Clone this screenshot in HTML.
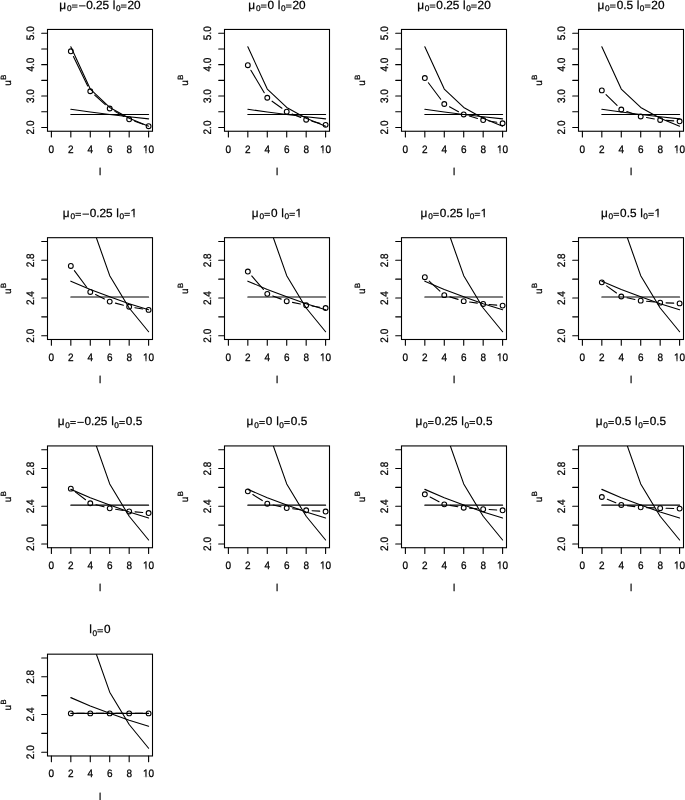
<!DOCTYPE html><html><head><meta charset="utf-8"><style>html,body{margin:0;padding:0;background:#fff;overflow:hidden;}svg{display:block;will-change:transform;}text{font-family:"Liberation Sans",sans-serif;fill:#000;text-rendering:geometricPrecision;stroke:#000;stroke-width:0.25px;}</style></head><body>
<svg width="685" height="800" viewBox="0 0 685 800">
<rect width="685" height="800" fill="#fff"/>
<clipPath id="c00"><rect x="47.5" y="29.45" width="105" height="101.8"/></clipPath>
<g stroke="#000" stroke-width="1.1" stroke-linecap="round" stroke-linejoin="round"><rect x="47.5" y="29.45" width="105" height="101.8" fill="none" stroke-linejoin="miter"/><path d="M51.39 131.25v5.8M70.83 131.25v5.8M90.28 131.25v5.8M109.72 131.25v5.8M129.17 131.25v5.8M148.61 131.25v5.8M47.5 127.48h-5.8M47.5 111.77h-5.8M47.5 96.06h-5.8M47.5 80.35h-5.8M47.5 64.64h-5.8M47.5 48.93h-5.8M47.5 33.22h-5.8" fill="none"/><path d="M70.83 46.79 L90.28 89.08 L109.72 107.47 L129.17 118.24 L148.61 126.16" fill="none" clip-path="url(#c00)"/><path d="M70.83 114.55 L148.61 114.55" fill="none"/><path d="M70.83 109.29 L90.28 112.05 L109.72 114.5 L129.17 116.8 L148.61 118.84" fill="none"/><path d="M73.41 56.59L87.7 85.95M94.69 95.17L105.31 104.59M114.88 111.36L124.01 116.42M134.72 121.26L143.05 124.24" fill="none"/><circle cx="70.83" cy="51.29" r="2.4" fill="none"/><circle cx="90.28" cy="91.25" r="2.4" fill="none"/><circle cx="109.72" cy="108.5" r="2.4" fill="none"/><circle cx="129.17" cy="119.28" r="2.4" fill="none"/><circle cx="148.61" cy="126.22" r="2.4" fill="none"/></g>
<text x="51.39" y="152.6" text-anchor="middle" font-size="10.0" transform="matrix(1 0 0 1.08 0 -12.21)">0</text><text x="70.83" y="152.6" text-anchor="middle" font-size="10.0" transform="matrix(1 0 0 1.08 0 -12.21)">2</text><text x="90.28" y="152.6" text-anchor="middle" font-size="10.0" transform="matrix(1 0 0 1.08 0 -12.21)">4</text><text x="109.72" y="152.6" text-anchor="middle" font-size="10.0" transform="matrix(1 0 0 1.08 0 -12.21)">6</text><text x="129.17" y="152.6" text-anchor="middle" font-size="10.0" transform="matrix(1 0 0 1.08 0 -12.21)">8</text><text x="148.61" y="152.6" text-anchor="middle" font-size="10.0" transform="matrix(1 0 0 1.08 0 -12.21)">10</text><rect x="142.05" y="151.40" width="3.47" height="3.15" fill="#fff"/><rect x="146.49" y="151.40" width="2.16" height="3.15" fill="#fff"/><text x="33.85" y="127.48" text-anchor="middle" font-size="10.0" transform="rotate(-90 33.85 127.48) matrix(1 0 0 1.08 0 -10.2)">2.0</text><text x="33.85" y="96.06" text-anchor="middle" font-size="10.0" transform="rotate(-90 33.85 96.06) matrix(1 0 0 1.08 0 -7.68)">3.0</text><text x="33.85" y="64.64" text-anchor="middle" font-size="10.0" transform="rotate(-90 33.85 64.64) matrix(1 0 0 1.08 0 -5.17)">4.0</text><text x="33.85" y="33.22" text-anchor="middle" font-size="10.0" transform="rotate(-90 33.85 33.22) matrix(1 0 0 1.08 0 -2.66)">5.0</text><text x="100" y="174.85" text-anchor="middle" font-size="10.0">l</text><text x="10.6" y="80.15" text-anchor="middle" font-size="10.0" transform="rotate(-90 10.6 80.15)">u<tspan dx="0.5" dy="-4.7" font-size="7.60">B</tspan></text><text x="59.33" y="8.60" font-size="11.80">μ</text><text x="66.94" y="11.10" font-size="8.26">0</text><rect x="71.91" y="4.60" width="5.60" height="0.9"/><rect x="71.91" y="6.65" width="5.60" height="0.9"/><rect x="79.01" y="5.40" width="6.50" height="0.95"/><text x="86.15" y="8.60" font-size="11.80">0.25</text><text x="112.83" y="8.60" font-size="11.80">l</text><text x="115.94" y="11.10" font-size="8.26">0</text><rect x="120.91" y="4.60" width="5.60" height="0.9"/><rect x="120.91" y="6.65" width="5.60" height="0.9"/><text x="127.41" y="8.60" font-size="11.80">20</text>
<clipPath id="c01"><rect x="224.5" y="29.45" width="105" height="101.8"/></clipPath>
<g stroke="#000" stroke-width="1.1" stroke-linecap="round" stroke-linejoin="round"><rect x="224.5" y="29.45" width="105" height="101.8" fill="none" stroke-linejoin="miter"/><path d="M228.39 131.25v5.8M247.83 131.25v5.8M267.28 131.25v5.8M286.72 131.25v5.8M306.17 131.25v5.8M325.61 131.25v5.8M224.5 127.48h-5.8M224.5 111.77h-5.8M224.5 96.06h-5.8M224.5 80.35h-5.8M224.5 64.64h-5.8M224.5 48.93h-5.8M224.5 33.22h-5.8" fill="none"/><path d="M247.83 46.79 L267.28 89.08 L286.72 107.47 L306.17 118.24 L325.61 126.16" fill="none" clip-path="url(#c01)"/><path d="M247.83 114.55 L325.61 114.55" fill="none"/><path d="M247.83 109.29 L267.28 112.05 L286.72 114.5 L306.17 116.8 L325.61 118.84" fill="none"/><path d="M250.86 70.27L264.25 92.69M272.07 101.2L281.93 108.27M292.18 113.95L300.71 117.47M311.87 121.23L319.91 123.36" fill="none"/><circle cx="247.83" cy="65.21" r="2.4" fill="none"/><circle cx="267.28" cy="97.76" r="2.4" fill="none"/><circle cx="286.72" cy="111.71" r="2.4" fill="none"/><circle cx="306.17" cy="119.72" r="2.4" fill="none"/><circle cx="325.61" cy="124.87" r="2.4" fill="none"/></g>
<text x="228.39" y="152.6" text-anchor="middle" font-size="10.0" transform="matrix(1 0 0 1.08 0 -12.21)">0</text><text x="247.83" y="152.6" text-anchor="middle" font-size="10.0" transform="matrix(1 0 0 1.08 0 -12.21)">2</text><text x="267.28" y="152.6" text-anchor="middle" font-size="10.0" transform="matrix(1 0 0 1.08 0 -12.21)">4</text><text x="286.72" y="152.6" text-anchor="middle" font-size="10.0" transform="matrix(1 0 0 1.08 0 -12.21)">6</text><text x="306.17" y="152.6" text-anchor="middle" font-size="10.0" transform="matrix(1 0 0 1.08 0 -12.21)">8</text><text x="325.61" y="152.6" text-anchor="middle" font-size="10.0" transform="matrix(1 0 0 1.08 0 -12.21)">10</text><rect x="319.05" y="151.40" width="3.47" height="3.15" fill="#fff"/><rect x="323.49" y="151.40" width="2.16" height="3.15" fill="#fff"/><text x="210.85" y="127.48" text-anchor="middle" font-size="10.0" transform="rotate(-90 210.85 127.48) matrix(1 0 0 1.08 0 -10.2)">2.0</text><text x="210.85" y="96.06" text-anchor="middle" font-size="10.0" transform="rotate(-90 210.85 96.06) matrix(1 0 0 1.08 0 -7.68)">3.0</text><text x="210.85" y="64.64" text-anchor="middle" font-size="10.0" transform="rotate(-90 210.85 64.64) matrix(1 0 0 1.08 0 -5.17)">4.0</text><text x="210.85" y="33.22" text-anchor="middle" font-size="10.0" transform="rotate(-90 210.85 33.22) matrix(1 0 0 1.08 0 -2.66)">5.0</text><text x="277" y="174.85" text-anchor="middle" font-size="10.0">l</text><text x="187.6" y="80.15" text-anchor="middle" font-size="10.0" transform="rotate(-90 187.6 80.15)">u<tspan dx="0.5" dy="-4.7" font-size="7.60">B</tspan></text><text x="248.31" y="8.60" font-size="11.80">μ</text><text x="255.92" y="11.10" font-size="8.26">0</text><rect x="260.90" y="4.60" width="5.60" height="0.9"/><rect x="260.90" y="6.65" width="5.60" height="0.9"/><text x="267.53" y="8.60" font-size="11.80">0</text><text x="277.84" y="8.60" font-size="11.80">l</text><text x="280.95" y="11.10" font-size="8.26">0</text><rect x="285.92" y="4.60" width="5.60" height="0.9"/><rect x="285.92" y="6.65" width="5.60" height="0.9"/><text x="292.43" y="8.60" font-size="11.80">20</text>
<clipPath id="c02"><rect x="401.5" y="29.45" width="105" height="101.8"/></clipPath>
<g stroke="#000" stroke-width="1.1" stroke-linecap="round" stroke-linejoin="round"><rect x="401.5" y="29.45" width="105" height="101.8" fill="none" stroke-linejoin="miter"/><path d="M405.39 131.25v5.8M424.83 131.25v5.8M444.28 131.25v5.8M463.72 131.25v5.8M483.17 131.25v5.8M502.61 131.25v5.8M401.5 127.48h-5.8M401.5 111.77h-5.8M401.5 96.06h-5.8M401.5 80.35h-5.8M401.5 64.64h-5.8M401.5 48.93h-5.8M401.5 33.22h-5.8" fill="none"/><path d="M424.83 46.79 L444.28 89.08 L463.72 107.47 L483.17 118.24 L502.61 126.16" fill="none" clip-path="url(#c02)"/><path d="M424.83 114.55 L502.61 114.55" fill="none"/><path d="M424.83 109.29 L444.28 112.05 L463.72 114.5 L483.17 116.8 L502.61 118.84" fill="none"/><path d="M428.37 82.78L440.74 99.29M449.48 106.8L458.52 111.65M469.39 116.08L477.5 118.43M488.99 121.02L496.79 122.31" fill="none"/><circle cx="424.83" cy="78.06" r="2.4" fill="none"/><circle cx="444.28" cy="104.01" r="2.4" fill="none"/><circle cx="463.72" cy="114.44" r="2.4" fill="none"/><circle cx="483.17" cy="120.06" r="2.4" fill="none"/><circle cx="502.61" cy="123.27" r="2.4" fill="none"/></g>
<text x="405.39" y="152.6" text-anchor="middle" font-size="10.0" transform="matrix(1 0 0 1.08 0 -12.21)">0</text><text x="424.83" y="152.6" text-anchor="middle" font-size="10.0" transform="matrix(1 0 0 1.08 0 -12.21)">2</text><text x="444.28" y="152.6" text-anchor="middle" font-size="10.0" transform="matrix(1 0 0 1.08 0 -12.21)">4</text><text x="463.72" y="152.6" text-anchor="middle" font-size="10.0" transform="matrix(1 0 0 1.08 0 -12.21)">6</text><text x="483.17" y="152.6" text-anchor="middle" font-size="10.0" transform="matrix(1 0 0 1.08 0 -12.21)">8</text><text x="502.61" y="152.6" text-anchor="middle" font-size="10.0" transform="matrix(1 0 0 1.08 0 -12.21)">10</text><rect x="496.05" y="151.40" width="3.47" height="3.15" fill="#fff"/><rect x="500.49" y="151.40" width="2.16" height="3.15" fill="#fff"/><text x="387.85" y="127.48" text-anchor="middle" font-size="10.0" transform="rotate(-90 387.85 127.48) matrix(1 0 0 1.08 0 -10.2)">2.0</text><text x="387.85" y="96.06" text-anchor="middle" font-size="10.0" transform="rotate(-90 387.85 96.06) matrix(1 0 0 1.08 0 -7.68)">3.0</text><text x="387.85" y="64.64" text-anchor="middle" font-size="10.0" transform="rotate(-90 387.85 64.64) matrix(1 0 0 1.08 0 -5.17)">4.0</text><text x="387.85" y="33.22" text-anchor="middle" font-size="10.0" transform="rotate(-90 387.85 33.22) matrix(1 0 0 1.08 0 -2.66)">5.0</text><text x="454" y="174.85" text-anchor="middle" font-size="10.0">l</text><text x="364.6" y="80.15" text-anchor="middle" font-size="10.0" transform="rotate(-90 364.6 80.15)">u<tspan dx="0.5" dy="-4.7" font-size="7.60">B</tspan></text><text x="417.13" y="8.60" font-size="11.80">μ</text><text x="424.74" y="11.10" font-size="8.26">0</text><rect x="429.71" y="4.60" width="5.60" height="0.9"/><rect x="429.71" y="6.65" width="5.60" height="0.9"/><text x="436.35" y="8.60" font-size="11.80">0.25</text><text x="463.03" y="8.60" font-size="11.80">l</text><text x="466.14" y="11.10" font-size="8.26">0</text><rect x="471.11" y="4.60" width="5.60" height="0.9"/><rect x="471.11" y="6.65" width="5.60" height="0.9"/><text x="477.61" y="8.60" font-size="11.80">20</text>
<clipPath id="c03"><rect x="578.5" y="29.45" width="105" height="101.8"/></clipPath>
<g stroke="#000" stroke-width="1.1" stroke-linecap="round" stroke-linejoin="round"><rect x="578.5" y="29.45" width="105" height="101.8" fill="none" stroke-linejoin="miter"/><path d="M582.39 131.25v5.8M601.83 131.25v5.8M621.28 131.25v5.8M640.72 131.25v5.8M660.17 131.25v5.8M679.61 131.25v5.8M578.5 127.48h-5.8M578.5 111.77h-5.8M578.5 96.06h-5.8M578.5 80.35h-5.8M578.5 64.64h-5.8M578.5 48.93h-5.8M578.5 33.22h-5.8" fill="none"/><path d="M601.83 46.79 L621.28 89.08 L640.72 107.47 L660.17 118.24 L679.61 126.16" fill="none" clip-path="url(#c03)"/><path d="M601.83 114.55 L679.61 114.55" fill="none"/><path d="M601.83 109.29 L621.28 112.05 L640.72 114.5 L660.17 116.8 L679.61 118.84" fill="none"/><path d="M606.04 94.54L617.07 105.37M626.83 111.5L635.17 114.49M646.53 117.52L654.36 118.93M666.05 120.37L673.72 120.89" fill="none"/><circle cx="601.83" cy="90.4" r="2.4" fill="none"/><circle cx="621.28" cy="109.51" r="2.4" fill="none"/><circle cx="640.72" cy="116.48" r="2.4" fill="none"/><circle cx="660.17" cy="119.97" r="2.4" fill="none"/><circle cx="679.61" cy="121.29" r="2.4" fill="none"/></g>
<text x="582.39" y="152.6" text-anchor="middle" font-size="10.0" transform="matrix(1 0 0 1.08 0 -12.21)">0</text><text x="601.83" y="152.6" text-anchor="middle" font-size="10.0" transform="matrix(1 0 0 1.08 0 -12.21)">2</text><text x="621.28" y="152.6" text-anchor="middle" font-size="10.0" transform="matrix(1 0 0 1.08 0 -12.21)">4</text><text x="640.72" y="152.6" text-anchor="middle" font-size="10.0" transform="matrix(1 0 0 1.08 0 -12.21)">6</text><text x="660.17" y="152.6" text-anchor="middle" font-size="10.0" transform="matrix(1 0 0 1.08 0 -12.21)">8</text><text x="679.61" y="152.6" text-anchor="middle" font-size="10.0" transform="matrix(1 0 0 1.08 0 -12.21)">10</text><rect x="673.05" y="151.40" width="3.47" height="3.15" fill="#fff"/><rect x="677.49" y="151.40" width="2.16" height="3.15" fill="#fff"/><text x="564.85" y="127.48" text-anchor="middle" font-size="10.0" transform="rotate(-90 564.85 127.48) matrix(1 0 0 1.08 0 -10.2)">2.0</text><text x="564.85" y="96.06" text-anchor="middle" font-size="10.0" transform="rotate(-90 564.85 96.06) matrix(1 0 0 1.08 0 -7.68)">3.0</text><text x="564.85" y="64.64" text-anchor="middle" font-size="10.0" transform="rotate(-90 564.85 64.64) matrix(1 0 0 1.08 0 -5.17)">4.0</text><text x="564.85" y="33.22" text-anchor="middle" font-size="10.0" transform="rotate(-90 564.85 33.22) matrix(1 0 0 1.08 0 -2.66)">5.0</text><text x="631" y="174.85" text-anchor="middle" font-size="10.0">l</text><text x="541.6" y="80.15" text-anchor="middle" font-size="10.0" transform="rotate(-90 541.6 80.15)">u<tspan dx="0.5" dy="-4.7" font-size="7.60">B</tspan></text><text x="597.41" y="8.60" font-size="11.80">μ</text><text x="605.02" y="11.10" font-size="8.26">0</text><rect x="609.99" y="4.60" width="5.60" height="0.9"/><rect x="609.99" y="6.65" width="5.60" height="0.9"/><text x="616.63" y="8.60" font-size="11.80">0.5</text><text x="636.74" y="8.60" font-size="11.80">l</text><text x="639.85" y="11.10" font-size="8.26">0</text><rect x="644.82" y="4.60" width="5.60" height="0.9"/><rect x="644.82" y="6.65" width="5.60" height="0.9"/><text x="651.33" y="8.60" font-size="11.80">20</text>
<clipPath id="c10"><rect x="47.5" y="237.69" width="105" height="101.8"/></clipPath>
<g stroke="#000" stroke-width="1.1" stroke-linecap="round" stroke-linejoin="round"><rect x="47.5" y="237.69" width="105" height="101.8" fill="none" stroke-linejoin="miter"/><path d="M51.39 339.49v5.8M70.83 339.49v5.8M90.28 339.49v5.8M109.72 339.49v5.8M129.17 339.49v5.8M148.61 339.49v5.8M47.5 335.72h-5.8M47.5 316.87h-5.8M47.5 298.02h-5.8M47.5 279.16h-5.8M47.5 260.31h-5.8M47.5 241.46h-5.8" fill="none"/><path d="M70.83 93.66 L90.28 220.53 L109.72 275.68 L129.17 308.01 L148.61 331.76" fill="none" clip-path="url(#c10)"/><path d="M70.83 296.93 L148.61 296.93" fill="none"/><path d="M70.83 281.14 L90.28 289.44 L109.72 296.79 L129.17 303.67 L148.61 309.8" fill="none"/><path d="M74.37 270.69L86.74 287.21M95.56 294.56L104.44 298.97M115.43 303.1L123.46 305.23M134.99 307.68L142.79 308.95" fill="none"/><circle cx="70.83" cy="265.97" r="2.4" fill="none"/><circle cx="90.28" cy="291.94" r="2.4" fill="none"/><circle cx="109.72" cy="301.6" r="2.4" fill="none"/><circle cx="129.17" cy="306.73" r="2.4" fill="none"/><circle cx="148.61" cy="309.89" r="2.4" fill="none"/></g>
<text x="51.39" y="360.84" text-anchor="middle" font-size="10.0" transform="matrix(1 0 0 1.08 0 -28.87)">0</text><text x="70.83" y="360.84" text-anchor="middle" font-size="10.0" transform="matrix(1 0 0 1.08 0 -28.87)">2</text><text x="90.28" y="360.84" text-anchor="middle" font-size="10.0" transform="matrix(1 0 0 1.08 0 -28.87)">4</text><text x="109.72" y="360.84" text-anchor="middle" font-size="10.0" transform="matrix(1 0 0 1.08 0 -28.87)">6</text><text x="129.17" y="360.84" text-anchor="middle" font-size="10.0" transform="matrix(1 0 0 1.08 0 -28.87)">8</text><text x="148.61" y="360.84" text-anchor="middle" font-size="10.0" transform="matrix(1 0 0 1.08 0 -28.87)">10</text><rect x="142.05" y="359.64" width="3.47" height="3.15" fill="#fff"/><rect x="146.49" y="359.64" width="2.16" height="3.15" fill="#fff"/><text x="33.85" y="335.72" text-anchor="middle" font-size="10.0" transform="rotate(-90 33.85 335.72) matrix(1 0 0 1.08 0 -26.86)">2.0</text><text x="33.85" y="298.02" text-anchor="middle" font-size="10.0" transform="rotate(-90 33.85 298.02) matrix(1 0 0 1.08 0 -23.84)">2.4</text><text x="33.85" y="260.31" text-anchor="middle" font-size="10.0" transform="rotate(-90 33.85 260.31) matrix(1 0 0 1.08 0 -20.82)">2.8</text><text x="100" y="383.09" text-anchor="middle" font-size="10.0">l</text><text x="10.6" y="288.39" text-anchor="middle" font-size="10.0" transform="rotate(-90 10.6 288.39)">u<tspan dx="0.5" dy="-4.7" font-size="7.60">B</tspan></text><text x="62.82" y="216.84" font-size="11.80">μ</text><text x="70.43" y="219.34" font-size="8.26">0</text><rect x="75.40" y="212.84" width="5.60" height="0.9"/><rect x="75.40" y="214.89" width="5.60" height="0.9"/><rect x="82.50" y="213.64" width="6.50" height="0.95"/><text x="89.64" y="216.84" font-size="11.80">0.25</text><text x="116.32" y="216.84" font-size="11.80">l</text><text x="119.43" y="219.34" font-size="8.26">0</text><rect x="124.40" y="212.84" width="5.60" height="0.9"/><rect x="124.40" y="214.89" width="5.60" height="0.9"/><text x="130.60" y="216.84" font-size="11.80">1</text><rect x="129.42" y="215.51" width="4.09" height="3.29" fill="#fff"/><rect x="134.66" y="215.51" width="2.55" height="3.29" fill="#fff"/>
<clipPath id="c11"><rect x="224.5" y="237.69" width="105" height="101.8"/></clipPath>
<g stroke="#000" stroke-width="1.1" stroke-linecap="round" stroke-linejoin="round"><rect x="224.5" y="237.69" width="105" height="101.8" fill="none" stroke-linejoin="miter"/><path d="M228.39 339.49v5.8M247.83 339.49v5.8M267.28 339.49v5.8M286.72 339.49v5.8M306.17 339.49v5.8M325.61 339.49v5.8M224.5 335.72h-5.8M224.5 316.87h-5.8M224.5 298.02h-5.8M224.5 279.16h-5.8M224.5 260.31h-5.8M224.5 241.46h-5.8" fill="none"/><path d="M247.83 93.66 L267.28 220.53 L286.72 275.68 L306.17 308.01 L325.61 331.76" fill="none" clip-path="url(#c11)"/><path d="M247.83 296.93 L325.61 296.93" fill="none"/><path d="M247.83 281.14 L267.28 289.44 L286.72 296.79 L306.17 303.67 L325.61 309.8" fill="none"/><path d="M251.71 275.98L263.4 289.42M272.8 295.96L281.2 299.13M292.5 302.41L300.39 304.04M312.01 306.06L319.77 307.17" fill="none"/><circle cx="247.83" cy="271.53" r="2.4" fill="none"/><circle cx="267.28" cy="293.87" r="2.4" fill="none"/><circle cx="286.72" cy="301.22" r="2.4" fill="none"/><circle cx="306.17" cy="305.23" r="2.4" fill="none"/><circle cx="325.61" cy="308.01" r="2.4" fill="none"/></g>
<text x="228.39" y="360.84" text-anchor="middle" font-size="10.0" transform="matrix(1 0 0 1.08 0 -28.87)">0</text><text x="247.83" y="360.84" text-anchor="middle" font-size="10.0" transform="matrix(1 0 0 1.08 0 -28.87)">2</text><text x="267.28" y="360.84" text-anchor="middle" font-size="10.0" transform="matrix(1 0 0 1.08 0 -28.87)">4</text><text x="286.72" y="360.84" text-anchor="middle" font-size="10.0" transform="matrix(1 0 0 1.08 0 -28.87)">6</text><text x="306.17" y="360.84" text-anchor="middle" font-size="10.0" transform="matrix(1 0 0 1.08 0 -28.87)">8</text><text x="325.61" y="360.84" text-anchor="middle" font-size="10.0" transform="matrix(1 0 0 1.08 0 -28.87)">10</text><rect x="319.05" y="359.64" width="3.47" height="3.15" fill="#fff"/><rect x="323.49" y="359.64" width="2.16" height="3.15" fill="#fff"/><text x="210.85" y="335.72" text-anchor="middle" font-size="10.0" transform="rotate(-90 210.85 335.72) matrix(1 0 0 1.08 0 -26.86)">2.0</text><text x="210.85" y="298.02" text-anchor="middle" font-size="10.0" transform="rotate(-90 210.85 298.02) matrix(1 0 0 1.08 0 -23.84)">2.4</text><text x="210.85" y="260.31" text-anchor="middle" font-size="10.0" transform="rotate(-90 210.85 260.31) matrix(1 0 0 1.08 0 -20.82)">2.8</text><text x="277" y="383.09" text-anchor="middle" font-size="10.0">l</text><text x="187.6" y="288.39" text-anchor="middle" font-size="10.0" transform="rotate(-90 187.6 288.39)">u<tspan dx="0.5" dy="-4.7" font-size="7.60">B</tspan></text><text x="251.80" y="216.84" font-size="11.80">μ</text><text x="259.42" y="219.34" font-size="8.26">0</text><rect x="264.39" y="212.84" width="5.60" height="0.9"/><rect x="264.39" y="214.89" width="5.60" height="0.9"/><text x="271.03" y="216.84" font-size="11.80">0</text><text x="281.33" y="216.84" font-size="11.80">l</text><text x="284.44" y="219.34" font-size="8.26">0</text><rect x="289.41" y="212.84" width="5.60" height="0.9"/><rect x="289.41" y="214.89" width="5.60" height="0.9"/><text x="295.61" y="216.84" font-size="11.80">1</text><rect x="294.43" y="215.51" width="4.09" height="3.29" fill="#fff"/><rect x="299.67" y="215.51" width="2.55" height="3.29" fill="#fff"/>
<clipPath id="c12"><rect x="401.5" y="237.69" width="105" height="101.8"/></clipPath>
<g stroke="#000" stroke-width="1.1" stroke-linecap="round" stroke-linejoin="round"><rect x="401.5" y="237.69" width="105" height="101.8" fill="none" stroke-linejoin="miter"/><path d="M405.39 339.49v5.8M424.83 339.49v5.8M444.28 339.49v5.8M463.72 339.49v5.8M483.17 339.49v5.8M502.61 339.49v5.8M401.5 335.72h-5.8M401.5 316.87h-5.8M401.5 298.02h-5.8M401.5 279.16h-5.8M401.5 260.31h-5.8M401.5 241.46h-5.8" fill="none"/><path d="M424.83 93.66 L444.28 220.53 L463.72 275.68 L483.17 308.01 L502.61 331.76" fill="none" clip-path="url(#c12)"/><path d="M424.83 296.93 L502.61 296.93" fill="none"/><path d="M424.83 281.14 L444.28 289.44 L463.72 296.79 L483.17 303.67 L502.61 309.8" fill="none"/><path d="M429.17 281.19L439.94 291.14M449.92 296.88L458.08 299.39M469.56 301.98L477.33 303.11M489.05 304.45L496.73 305.1" fill="none"/><circle cx="424.83" cy="277.18" r="2.4" fill="none"/><circle cx="444.28" cy="295.14" r="2.4" fill="none"/><circle cx="463.72" cy="301.13" r="2.4" fill="none"/><circle cx="483.17" cy="303.95" r="2.4" fill="none"/><circle cx="502.61" cy="305.59" r="2.4" fill="none"/></g>
<text x="405.39" y="360.84" text-anchor="middle" font-size="10.0" transform="matrix(1 0 0 1.08 0 -28.87)">0</text><text x="424.83" y="360.84" text-anchor="middle" font-size="10.0" transform="matrix(1 0 0 1.08 0 -28.87)">2</text><text x="444.28" y="360.84" text-anchor="middle" font-size="10.0" transform="matrix(1 0 0 1.08 0 -28.87)">4</text><text x="463.72" y="360.84" text-anchor="middle" font-size="10.0" transform="matrix(1 0 0 1.08 0 -28.87)">6</text><text x="483.17" y="360.84" text-anchor="middle" font-size="10.0" transform="matrix(1 0 0 1.08 0 -28.87)">8</text><text x="502.61" y="360.84" text-anchor="middle" font-size="10.0" transform="matrix(1 0 0 1.08 0 -28.87)">10</text><rect x="496.05" y="359.64" width="3.47" height="3.15" fill="#fff"/><rect x="500.49" y="359.64" width="2.16" height="3.15" fill="#fff"/><text x="387.85" y="335.72" text-anchor="middle" font-size="10.0" transform="rotate(-90 387.85 335.72) matrix(1 0 0 1.08 0 -26.86)">2.0</text><text x="387.85" y="298.02" text-anchor="middle" font-size="10.0" transform="rotate(-90 387.85 298.02) matrix(1 0 0 1.08 0 -23.84)">2.4</text><text x="387.85" y="260.31" text-anchor="middle" font-size="10.0" transform="rotate(-90 387.85 260.31) matrix(1 0 0 1.08 0 -20.82)">2.8</text><text x="454" y="383.09" text-anchor="middle" font-size="10.0">l</text><text x="364.6" y="288.39" text-anchor="middle" font-size="10.0" transform="rotate(-90 364.6 288.39)">u<tspan dx="0.5" dy="-4.7" font-size="7.60">B</tspan></text><text x="420.62" y="216.84" font-size="11.80">μ</text><text x="428.23" y="219.34" font-size="8.26">0</text><rect x="433.20" y="212.84" width="5.60" height="0.9"/><rect x="433.20" y="214.89" width="5.60" height="0.9"/><text x="439.84" y="216.84" font-size="11.80">0.25</text><text x="466.52" y="216.84" font-size="11.80">l</text><text x="469.63" y="219.34" font-size="8.26">0</text><rect x="474.60" y="212.84" width="5.60" height="0.9"/><rect x="474.60" y="214.89" width="5.60" height="0.9"/><text x="480.80" y="216.84" font-size="11.80">1</text><rect x="479.62" y="215.51" width="4.09" height="3.29" fill="#fff"/><rect x="484.86" y="215.51" width="2.55" height="3.29" fill="#fff"/>
<clipPath id="c13"><rect x="578.5" y="237.69" width="105" height="101.8"/></clipPath>
<g stroke="#000" stroke-width="1.1" stroke-linecap="round" stroke-linejoin="round"><rect x="578.5" y="237.69" width="105" height="101.8" fill="none" stroke-linejoin="miter"/><path d="M582.39 339.49v5.8M601.83 339.49v5.8M621.28 339.49v5.8M640.72 339.49v5.8M660.17 339.49v5.8M679.61 339.49v5.8M578.5 335.72h-5.8M578.5 316.87h-5.8M578.5 298.02h-5.8M578.5 279.16h-5.8M578.5 260.31h-5.8M578.5 241.46h-5.8" fill="none"/><path d="M601.83 93.66 L621.28 220.53 L640.72 275.68 L660.17 308.01 L679.61 331.76" fill="none" clip-path="url(#c13)"/><path d="M601.83 296.93 L679.61 296.93" fill="none"/><path d="M601.83 281.14 L621.28 289.44 L640.72 296.79 L660.17 303.67 L679.61 309.8" fill="none"/><path d="M606.61 285.84L616.51 293.04M627.05 297.74L634.95 299.42M646.59 301.25L654.3 302.04M666.06 302.86L673.72 303.16" fill="none"/><circle cx="601.83" cy="282.37" r="2.4" fill="none"/><circle cx="621.28" cy="296.51" r="2.4" fill="none"/><circle cx="640.72" cy="300.66" r="2.4" fill="none"/><circle cx="660.17" cy="302.63" r="2.4" fill="none"/><circle cx="679.61" cy="303.39" r="2.4" fill="none"/></g>
<text x="582.39" y="360.84" text-anchor="middle" font-size="10.0" transform="matrix(1 0 0 1.08 0 -28.87)">0</text><text x="601.83" y="360.84" text-anchor="middle" font-size="10.0" transform="matrix(1 0 0 1.08 0 -28.87)">2</text><text x="621.28" y="360.84" text-anchor="middle" font-size="10.0" transform="matrix(1 0 0 1.08 0 -28.87)">4</text><text x="640.72" y="360.84" text-anchor="middle" font-size="10.0" transform="matrix(1 0 0 1.08 0 -28.87)">6</text><text x="660.17" y="360.84" text-anchor="middle" font-size="10.0" transform="matrix(1 0 0 1.08 0 -28.87)">8</text><text x="679.61" y="360.84" text-anchor="middle" font-size="10.0" transform="matrix(1 0 0 1.08 0 -28.87)">10</text><rect x="673.05" y="359.64" width="3.47" height="3.15" fill="#fff"/><rect x="677.49" y="359.64" width="2.16" height="3.15" fill="#fff"/><text x="564.85" y="335.72" text-anchor="middle" font-size="10.0" transform="rotate(-90 564.85 335.72) matrix(1 0 0 1.08 0 -26.86)">2.0</text><text x="564.85" y="298.02" text-anchor="middle" font-size="10.0" transform="rotate(-90 564.85 298.02) matrix(1 0 0 1.08 0 -23.84)">2.4</text><text x="564.85" y="260.31" text-anchor="middle" font-size="10.0" transform="rotate(-90 564.85 260.31) matrix(1 0 0 1.08 0 -20.82)">2.8</text><text x="631" y="383.09" text-anchor="middle" font-size="10.0">l</text><text x="541.6" y="288.39" text-anchor="middle" font-size="10.0" transform="rotate(-90 541.6 288.39)">u<tspan dx="0.5" dy="-4.7" font-size="7.60">B</tspan></text><text x="600.90" y="216.84" font-size="11.80">μ</text><text x="608.51" y="219.34" font-size="8.26">0</text><rect x="613.48" y="212.84" width="5.60" height="0.9"/><rect x="613.48" y="214.89" width="5.60" height="0.9"/><text x="620.12" y="216.84" font-size="11.80">0.5</text><text x="640.24" y="216.84" font-size="11.80">l</text><text x="643.35" y="219.34" font-size="8.26">0</text><rect x="648.32" y="212.84" width="5.60" height="0.9"/><rect x="648.32" y="214.89" width="5.60" height="0.9"/><text x="654.52" y="216.84" font-size="11.80">1</text><rect x="653.34" y="215.51" width="4.09" height="3.29" fill="#fff"/><rect x="658.58" y="215.51" width="2.55" height="3.29" fill="#fff"/>
<clipPath id="c20"><rect x="47.5" y="445.93" width="105" height="101.8"/></clipPath>
<g stroke="#000" stroke-width="1.1" stroke-linecap="round" stroke-linejoin="round"><rect x="47.5" y="445.93" width="105" height="101.8" fill="none" stroke-linejoin="miter"/><path d="M51.39 547.73v5.8M70.83 547.73v5.8M90.28 547.73v5.8M109.72 547.73v5.8M129.17 547.73v5.8M148.61 547.73v5.8M47.5 543.96h-5.8M47.5 525.11h-5.8M47.5 506.26h-5.8M47.5 487.4h-5.8M47.5 468.55h-5.8M47.5 449.7h-5.8" fill="none"/><path d="M70.83 301.9 L90.28 428.77 L109.72 483.92 L129.17 516.25 L148.61 540" fill="none" clip-path="url(#c20)"/><path d="M70.83 505.17 L148.61 505.17" fill="none"/><path d="M70.83 489.38 L90.28 497.68 L109.72 505.03 L129.17 511.91 L148.61 518.04" fill="none"/><path d="M75.55 492.17L85.56 499.7M95.99 504.73L104.01 506.84M115.55 509.26L123.34 510.51M135.05 511.92L142.73 512.56" fill="none"/><circle cx="70.83" cy="488.63" r="2.4" fill="none"/><circle cx="90.28" cy="503.24" r="2.4" fill="none"/><circle cx="109.72" cy="508.33" r="2.4" fill="none"/><circle cx="129.17" cy="511.44" r="2.4" fill="none"/><circle cx="148.61" cy="513.04" r="2.4" fill="none"/></g>
<text x="51.39" y="569.08" text-anchor="middle" font-size="10.0" transform="matrix(1 0 0 1.08 0 -45.53)">0</text><text x="70.83" y="569.08" text-anchor="middle" font-size="10.0" transform="matrix(1 0 0 1.08 0 -45.53)">2</text><text x="90.28" y="569.08" text-anchor="middle" font-size="10.0" transform="matrix(1 0 0 1.08 0 -45.53)">4</text><text x="109.72" y="569.08" text-anchor="middle" font-size="10.0" transform="matrix(1 0 0 1.08 0 -45.53)">6</text><text x="129.17" y="569.08" text-anchor="middle" font-size="10.0" transform="matrix(1 0 0 1.08 0 -45.53)">8</text><text x="148.61" y="569.08" text-anchor="middle" font-size="10.0" transform="matrix(1 0 0 1.08 0 -45.53)">10</text><rect x="142.05" y="567.88" width="3.47" height="3.15" fill="#fff"/><rect x="146.49" y="567.88" width="2.16" height="3.15" fill="#fff"/><text x="33.85" y="543.96" text-anchor="middle" font-size="10.0" transform="rotate(-90 33.85 543.96) matrix(1 0 0 1.08 0 -43.52)">2.0</text><text x="33.85" y="506.26" text-anchor="middle" font-size="10.0" transform="rotate(-90 33.85 506.26) matrix(1 0 0 1.08 0 -40.5)">2.4</text><text x="33.85" y="468.55" text-anchor="middle" font-size="10.0" transform="rotate(-90 33.85 468.55) matrix(1 0 0 1.08 0 -37.48)">2.8</text><text x="100" y="591.33" text-anchor="middle" font-size="10.0">l</text><text x="10.6" y="496.63" text-anchor="middle" font-size="10.0" transform="rotate(-90 10.6 496.63)">u<tspan dx="0.5" dy="-4.7" font-size="7.60">B</tspan></text><text x="57.64" y="425.08" font-size="11.80">μ</text><text x="65.25" y="427.58" font-size="8.26">0</text><rect x="70.22" y="421.08" width="5.60" height="0.9"/><rect x="70.22" y="423.13" width="5.60" height="0.9"/><rect x="77.32" y="421.88" width="6.50" height="0.95"/><text x="84.46" y="425.08" font-size="11.80">0.25</text><text x="111.14" y="425.08" font-size="11.80">l</text><text x="114.25" y="427.58" font-size="8.26">0</text><rect x="119.22" y="421.08" width="5.60" height="0.9"/><rect x="119.22" y="423.13" width="5.60" height="0.9"/><text x="125.86" y="425.08" font-size="11.80">0.5</text>
<clipPath id="c21"><rect x="224.5" y="445.93" width="105" height="101.8"/></clipPath>
<g stroke="#000" stroke-width="1.1" stroke-linecap="round" stroke-linejoin="round"><rect x="224.5" y="445.93" width="105" height="101.8" fill="none" stroke-linejoin="miter"/><path d="M228.39 547.73v5.8M247.83 547.73v5.8M267.28 547.73v5.8M286.72 547.73v5.8M306.17 547.73v5.8M325.61 547.73v5.8M224.5 543.96h-5.8M224.5 525.11h-5.8M224.5 506.26h-5.8M224.5 487.4h-5.8M224.5 468.55h-5.8M224.5 449.7h-5.8" fill="none"/><path d="M247.83 301.9 L267.28 428.77 L286.72 483.92 L306.17 516.25 L325.61 540" fill="none" clip-path="url(#c21)"/><path d="M247.83 505.17 L325.61 505.17" fill="none"/><path d="M247.83 489.38 L267.28 497.68 L286.72 505.03 L306.17 511.91 L325.61 518.04" fill="none"/><path d="M252.81 494.53L262.3 500.55M273.04 505L280.96 506.76M292.58 508.73L300.31 509.63M312.05 510.68L319.72 511.16" fill="none"/><circle cx="247.83" cy="491.36" r="2.4" fill="none"/><circle cx="267.28" cy="503.71" r="2.4" fill="none"/><circle cx="286.72" cy="508.05" r="2.4" fill="none"/><circle cx="306.17" cy="510.31" r="2.4" fill="none"/><circle cx="325.61" cy="511.53" r="2.4" fill="none"/></g>
<text x="228.39" y="569.08" text-anchor="middle" font-size="10.0" transform="matrix(1 0 0 1.08 0 -45.53)">0</text><text x="247.83" y="569.08" text-anchor="middle" font-size="10.0" transform="matrix(1 0 0 1.08 0 -45.53)">2</text><text x="267.28" y="569.08" text-anchor="middle" font-size="10.0" transform="matrix(1 0 0 1.08 0 -45.53)">4</text><text x="286.72" y="569.08" text-anchor="middle" font-size="10.0" transform="matrix(1 0 0 1.08 0 -45.53)">6</text><text x="306.17" y="569.08" text-anchor="middle" font-size="10.0" transform="matrix(1 0 0 1.08 0 -45.53)">8</text><text x="325.61" y="569.08" text-anchor="middle" font-size="10.0" transform="matrix(1 0 0 1.08 0 -45.53)">10</text><rect x="319.05" y="567.88" width="3.47" height="3.15" fill="#fff"/><rect x="323.49" y="567.88" width="2.16" height="3.15" fill="#fff"/><text x="210.85" y="543.96" text-anchor="middle" font-size="10.0" transform="rotate(-90 210.85 543.96) matrix(1 0 0 1.08 0 -43.52)">2.0</text><text x="210.85" y="506.26" text-anchor="middle" font-size="10.0" transform="rotate(-90 210.85 506.26) matrix(1 0 0 1.08 0 -40.5)">2.4</text><text x="210.85" y="468.55" text-anchor="middle" font-size="10.0" transform="rotate(-90 210.85 468.55) matrix(1 0 0 1.08 0 -37.48)">2.8</text><text x="277" y="591.33" text-anchor="middle" font-size="10.0">l</text><text x="187.6" y="496.63" text-anchor="middle" font-size="10.0" transform="rotate(-90 187.6 496.63)">u<tspan dx="0.5" dy="-4.7" font-size="7.60">B</tspan></text><text x="246.62" y="425.08" font-size="11.80">μ</text><text x="254.24" y="427.58" font-size="8.26">0</text><rect x="259.21" y="421.08" width="5.60" height="0.9"/><rect x="259.21" y="423.13" width="5.60" height="0.9"/><text x="265.85" y="425.08" font-size="11.80">0</text><text x="276.15" y="425.08" font-size="11.80">l</text><text x="279.26" y="427.58" font-size="8.26">0</text><rect x="284.23" y="421.08" width="5.60" height="0.9"/><rect x="284.23" y="423.13" width="5.60" height="0.9"/><text x="290.87" y="425.08" font-size="11.80">0.5</text>
<clipPath id="c22"><rect x="401.5" y="445.93" width="105" height="101.8"/></clipPath>
<g stroke="#000" stroke-width="1.1" stroke-linecap="round" stroke-linejoin="round"><rect x="401.5" y="445.93" width="105" height="101.8" fill="none" stroke-linejoin="miter"/><path d="M405.39 547.73v5.8M424.83 547.73v5.8M444.28 547.73v5.8M463.72 547.73v5.8M483.17 547.73v5.8M502.61 547.73v5.8M401.5 543.96h-5.8M401.5 525.11h-5.8M401.5 506.26h-5.8M401.5 487.4h-5.8M401.5 468.55h-5.8M401.5 449.7h-5.8" fill="none"/><path d="M424.83 301.9 L444.28 428.77 L463.72 483.92 L483.17 516.25 L502.61 540" fill="none" clip-path="url(#c22)"/><path d="M424.83 505.17 L502.61 505.17" fill="none"/><path d="M424.83 489.38 L444.28 497.68 L463.72 505.03 L483.17 511.91 L502.61 518.04" fill="none"/><path d="M430.07 497L439.04 501.65M450.09 505.37L457.91 506.72M469.61 508.17L477.28 508.74M489.06 509.52L496.72 509.97" fill="none"/><circle cx="424.83" cy="494.28" r="2.4" fill="none"/><circle cx="444.28" cy="504.37" r="2.4" fill="none"/><circle cx="463.72" cy="507.73" r="2.4" fill="none"/><circle cx="483.17" cy="509.18" r="2.4" fill="none"/><circle cx="502.61" cy="510.31" r="2.4" fill="none"/></g>
<text x="405.39" y="569.08" text-anchor="middle" font-size="10.0" transform="matrix(1 0 0 1.08 0 -45.53)">0</text><text x="424.83" y="569.08" text-anchor="middle" font-size="10.0" transform="matrix(1 0 0 1.08 0 -45.53)">2</text><text x="444.28" y="569.08" text-anchor="middle" font-size="10.0" transform="matrix(1 0 0 1.08 0 -45.53)">4</text><text x="463.72" y="569.08" text-anchor="middle" font-size="10.0" transform="matrix(1 0 0 1.08 0 -45.53)">6</text><text x="483.17" y="569.08" text-anchor="middle" font-size="10.0" transform="matrix(1 0 0 1.08 0 -45.53)">8</text><text x="502.61" y="569.08" text-anchor="middle" font-size="10.0" transform="matrix(1 0 0 1.08 0 -45.53)">10</text><rect x="496.05" y="567.88" width="3.47" height="3.15" fill="#fff"/><rect x="500.49" y="567.88" width="2.16" height="3.15" fill="#fff"/><text x="387.85" y="543.96" text-anchor="middle" font-size="10.0" transform="rotate(-90 387.85 543.96) matrix(1 0 0 1.08 0 -43.52)">2.0</text><text x="387.85" y="506.26" text-anchor="middle" font-size="10.0" transform="rotate(-90 387.85 506.26) matrix(1 0 0 1.08 0 -40.5)">2.4</text><text x="387.85" y="468.55" text-anchor="middle" font-size="10.0" transform="rotate(-90 387.85 468.55) matrix(1 0 0 1.08 0 -37.48)">2.8</text><text x="454" y="591.33" text-anchor="middle" font-size="10.0">l</text><text x="364.6" y="496.63" text-anchor="middle" font-size="10.0" transform="rotate(-90 364.6 496.63)">u<tspan dx="0.5" dy="-4.7" font-size="7.60">B</tspan></text><text x="415.44" y="425.08" font-size="11.80">μ</text><text x="423.05" y="427.58" font-size="8.26">0</text><rect x="428.02" y="421.08" width="5.60" height="0.9"/><rect x="428.02" y="423.13" width="5.60" height="0.9"/><text x="434.66" y="425.08" font-size="11.80">0.25</text><text x="461.34" y="425.08" font-size="11.80">l</text><text x="464.45" y="427.58" font-size="8.26">0</text><rect x="469.42" y="421.08" width="5.60" height="0.9"/><rect x="469.42" y="423.13" width="5.60" height="0.9"/><text x="476.06" y="425.08" font-size="11.80">0.5</text>
<clipPath id="c23"><rect x="578.5" y="445.93" width="105" height="101.8"/></clipPath>
<g stroke="#000" stroke-width="1.1" stroke-linecap="round" stroke-linejoin="round"><rect x="578.5" y="445.93" width="105" height="101.8" fill="none" stroke-linejoin="miter"/><path d="M582.39 547.73v5.8M601.83 547.73v5.8M621.28 547.73v5.8M640.72 547.73v5.8M660.17 547.73v5.8M679.61 547.73v5.8M578.5 543.96h-5.8M578.5 525.11h-5.8M578.5 506.26h-5.8M578.5 487.4h-5.8M578.5 468.55h-5.8M578.5 449.7h-5.8" fill="none"/><path d="M601.83 301.9 L621.28 428.77 L640.72 483.92 L660.17 516.25 L679.61 540" fill="none" clip-path="url(#c23)"/><path d="M601.83 505.17 L679.61 505.17" fill="none"/><path d="M601.83 489.38 L621.28 497.68 L640.72 505.03 L660.17 511.91 L679.61 518.04" fill="none"/><path d="M607.3 499.24L615.81 502.71M627.13 505.66L634.87 506.62M646.62 507.58L654.27 507.9M666.06 508.28L673.71 508.47" fill="none"/><circle cx="601.83" cy="497.02" r="2.4" fill="none"/><circle cx="621.28" cy="504.94" r="2.4" fill="none"/><circle cx="640.72" cy="507.34" r="2.4" fill="none"/><circle cx="660.17" cy="508.14" r="2.4" fill="none"/><circle cx="679.61" cy="508.61" r="2.4" fill="none"/></g>
<text x="582.39" y="569.08" text-anchor="middle" font-size="10.0" transform="matrix(1 0 0 1.08 0 -45.53)">0</text><text x="601.83" y="569.08" text-anchor="middle" font-size="10.0" transform="matrix(1 0 0 1.08 0 -45.53)">2</text><text x="621.28" y="569.08" text-anchor="middle" font-size="10.0" transform="matrix(1 0 0 1.08 0 -45.53)">4</text><text x="640.72" y="569.08" text-anchor="middle" font-size="10.0" transform="matrix(1 0 0 1.08 0 -45.53)">6</text><text x="660.17" y="569.08" text-anchor="middle" font-size="10.0" transform="matrix(1 0 0 1.08 0 -45.53)">8</text><text x="679.61" y="569.08" text-anchor="middle" font-size="10.0" transform="matrix(1 0 0 1.08 0 -45.53)">10</text><rect x="673.05" y="567.88" width="3.47" height="3.15" fill="#fff"/><rect x="677.49" y="567.88" width="2.16" height="3.15" fill="#fff"/><text x="564.85" y="543.96" text-anchor="middle" font-size="10.0" transform="rotate(-90 564.85 543.96) matrix(1 0 0 1.08 0 -43.52)">2.0</text><text x="564.85" y="506.26" text-anchor="middle" font-size="10.0" transform="rotate(-90 564.85 506.26) matrix(1 0 0 1.08 0 -40.5)">2.4</text><text x="564.85" y="468.55" text-anchor="middle" font-size="10.0" transform="rotate(-90 564.85 468.55) matrix(1 0 0 1.08 0 -37.48)">2.8</text><text x="631" y="591.33" text-anchor="middle" font-size="10.0">l</text><text x="541.6" y="496.63" text-anchor="middle" font-size="10.0" transform="rotate(-90 541.6 496.63)">u<tspan dx="0.5" dy="-4.7" font-size="7.60">B</tspan></text><text x="595.72" y="425.08" font-size="11.80">μ</text><text x="603.33" y="427.58" font-size="8.26">0</text><rect x="608.30" y="421.08" width="5.60" height="0.9"/><rect x="608.30" y="423.13" width="5.60" height="0.9"/><text x="614.94" y="425.08" font-size="11.80">0.5</text><text x="635.06" y="425.08" font-size="11.80">l</text><text x="638.17" y="427.58" font-size="8.26">0</text><rect x="643.14" y="421.08" width="5.60" height="0.9"/><rect x="643.14" y="423.13" width="5.60" height="0.9"/><text x="649.78" y="425.08" font-size="11.80">0.5</text>
<clipPath id="c30"><rect x="47.5" y="654.17" width="105" height="101.8"/></clipPath>
<g stroke="#000" stroke-width="1.1" stroke-linecap="round" stroke-linejoin="round"><rect x="47.5" y="654.17" width="105" height="101.8" fill="none" stroke-linejoin="miter"/><path d="M51.39 755.97v5.8M70.83 755.97v5.8M90.28 755.97v5.8M109.72 755.97v5.8M129.17 755.97v5.8M148.61 755.97v5.8M47.5 752.2h-5.8M47.5 733.35h-5.8M47.5 714.5h-5.8M47.5 695.64h-5.8M47.5 676.79h-5.8M47.5 657.94h-5.8" fill="none"/><path d="M70.83 510.14 L90.28 637.01 L109.72 692.16 L129.17 724.49 L148.61 748.24" fill="none" clip-path="url(#c30)"/><path d="M70.83 713.41 L148.61 713.41" fill="none"/><path d="M70.83 697.62 L90.28 705.92 L109.72 713.27 L129.17 720.15 L148.61 726.28" fill="none"/><path d="M76.73 713.41L84.38 713.41M96.18 713.41L103.82 713.41M115.62 713.41L123.27 713.41M135.07 713.41L142.71 713.41" fill="none"/><circle cx="70.83" cy="713.41" r="2.4" fill="none"/><circle cx="90.28" cy="713.41" r="2.4" fill="none"/><circle cx="109.72" cy="713.41" r="2.4" fill="none"/><circle cx="129.17" cy="713.41" r="2.4" fill="none"/><circle cx="148.61" cy="713.41" r="2.4" fill="none"/></g>
<text x="51.39" y="777.32" text-anchor="middle" font-size="10.0" transform="matrix(1 0 0 1.08 0 -62.19)">0</text><text x="70.83" y="777.32" text-anchor="middle" font-size="10.0" transform="matrix(1 0 0 1.08 0 -62.19)">2</text><text x="90.28" y="777.32" text-anchor="middle" font-size="10.0" transform="matrix(1 0 0 1.08 0 -62.19)">4</text><text x="109.72" y="777.32" text-anchor="middle" font-size="10.0" transform="matrix(1 0 0 1.08 0 -62.19)">6</text><text x="129.17" y="777.32" text-anchor="middle" font-size="10.0" transform="matrix(1 0 0 1.08 0 -62.19)">8</text><text x="148.61" y="777.32" text-anchor="middle" font-size="10.0" transform="matrix(1 0 0 1.08 0 -62.19)">10</text><rect x="142.05" y="776.12" width="3.47" height="3.15" fill="#fff"/><rect x="146.49" y="776.12" width="2.16" height="3.15" fill="#fff"/><text x="33.85" y="752.2" text-anchor="middle" font-size="10.0" transform="rotate(-90 33.85 752.2) matrix(1 0 0 1.08 0 -60.18)">2.0</text><text x="33.85" y="714.5" text-anchor="middle" font-size="10.0" transform="rotate(-90 33.85 714.5) matrix(1 0 0 1.08 0 -57.16)">2.4</text><text x="33.85" y="676.79" text-anchor="middle" font-size="10.0" transform="rotate(-90 33.85 676.79) matrix(1 0 0 1.08 0 -54.14)">2.8</text><text x="100" y="799.57" text-anchor="middle" font-size="10.0">l</text><text x="10.6" y="704.87" text-anchor="middle" font-size="10.0" transform="rotate(-90 10.6 704.87)">u<tspan dx="0.5" dy="-4.7" font-size="7.60">B</tspan></text><text x="89.29" y="633.32" font-size="11.80">l</text><text x="92.40" y="635.82" font-size="8.26">0</text><rect x="97.37" y="629.32" width="5.60" height="0.9"/><rect x="97.37" y="631.37" width="5.60" height="0.9"/><text x="104.01" y="633.32" font-size="11.80">0</text>
</svg></body></html>
